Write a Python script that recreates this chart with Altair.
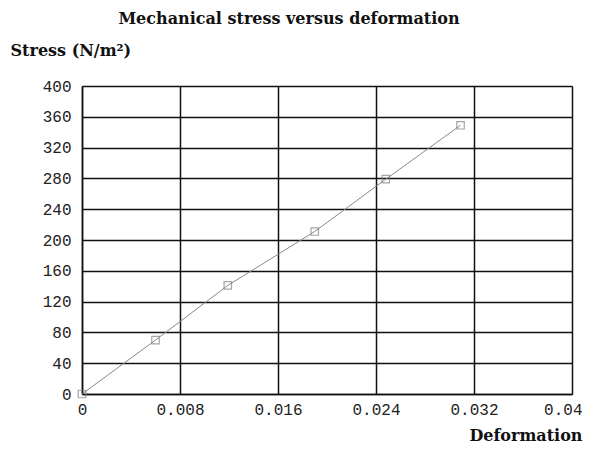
import altair as alt
import pandas as pd

deformation = [0, 0.006, 0.0119, 0.019, 0.0248, 0.0309]
stress = [0, 70, 141, 211, 279, 349]
x_ticks = [0, 0.008, 0.016, 0.024, 0.032, 0.04]
y_ticks = [0, 40, 80, 120, 160, 200, 240, 280, 320, 360, 400]

df = pd.DataFrame({"deformation": deformation, "stress": stress})

serif = "DejaVu Serif"
mono = "Liberation Mono"

x_enc = alt.X(
    "deformation:Q",
    scale=alt.Scale(domain=[0, 0.04], nice=False, zero=True),
    axis=alt.Axis(
        values=x_ticks, tickCount=len(x_ticks), format=".3~f", title="Deformation",
        titleFont=serif, titleFontSize=16, titleFontWeight="bold", titleColor="#111",
        titleAnchor="end", titleAlign="right", titleX=500, titleY=46, titleBaseline="alphabetic",
        labelFont=mono, labelFontSize=16, labelColor="#222", labelPadding=7,
        labelOverlap=False, labelFlush=False,
        labelAlign=alt.condition("datum.value >= 0.04", alt.value("right"), alt.value("center")),
        labelOffset=alt.condition("datum.value >= 0.04", alt.value(10), alt.value(0)),
        ticks=False, grid=True, gridColor="#111", gridWidth=1.5, gridOpacity=1,
        domainColor="#111", domainWidth=1.5,
    ),
)
y_enc = alt.Y(
    "stress:Q",
    scale=alt.Scale(domain=[0, 400], nice=False),
    axis=alt.Axis(
        values=y_ticks, tickCount=len(y_ticks), title="Stress (N/m²)",
        titleFont=serif, titleFontSize=16, titleFontWeight="bold", titleColor="#111",
        titleAngle=0, titleAlign="left", titleBaseline="middle", titleX=-72, titleY=-36,
        labelFont=mono, labelFontSize=16, labelColor="#222", labelPadding=11,
        labelOverlap=False,
        ticks=False, grid=True, gridColor="#111", gridWidth=1.5, gridOpacity=1,
        domainColor="#111", domainWidth=1.5,
    ),
)

line = alt.Chart(df).mark_line(color="#8a8a8a", strokeWidth=1).encode(x=x_enc, y=y_enc)
pts = alt.Chart(df).mark_point(shape="square", filled=False, color="#808080", size=56, strokeWidth=1.2).encode(
    x="deformation:Q", y="stress:Q"
)

chart = (
    alt.layer(line, pts)
    .properties(
        width=490,
        height=308,
        autosize=alt.AutoSizeParams(type="none"),
        padding={"left": 74, "top": 78, "right": 12, "bottom": 50},
        title=alt.TitleParams(
            "Mechanical stress versus deformation",
            font=serif, fontSize=16, fontWeight="bold", color="#111",
            anchor="middle", dx=-38, offset=15,
        ),
    )
    .configure_view(stroke="#111", strokeWidth=1.5)
    .configure(background="white")
)

chart.save("out.html", embed_options={"renderer": "svg", "actions": False})
